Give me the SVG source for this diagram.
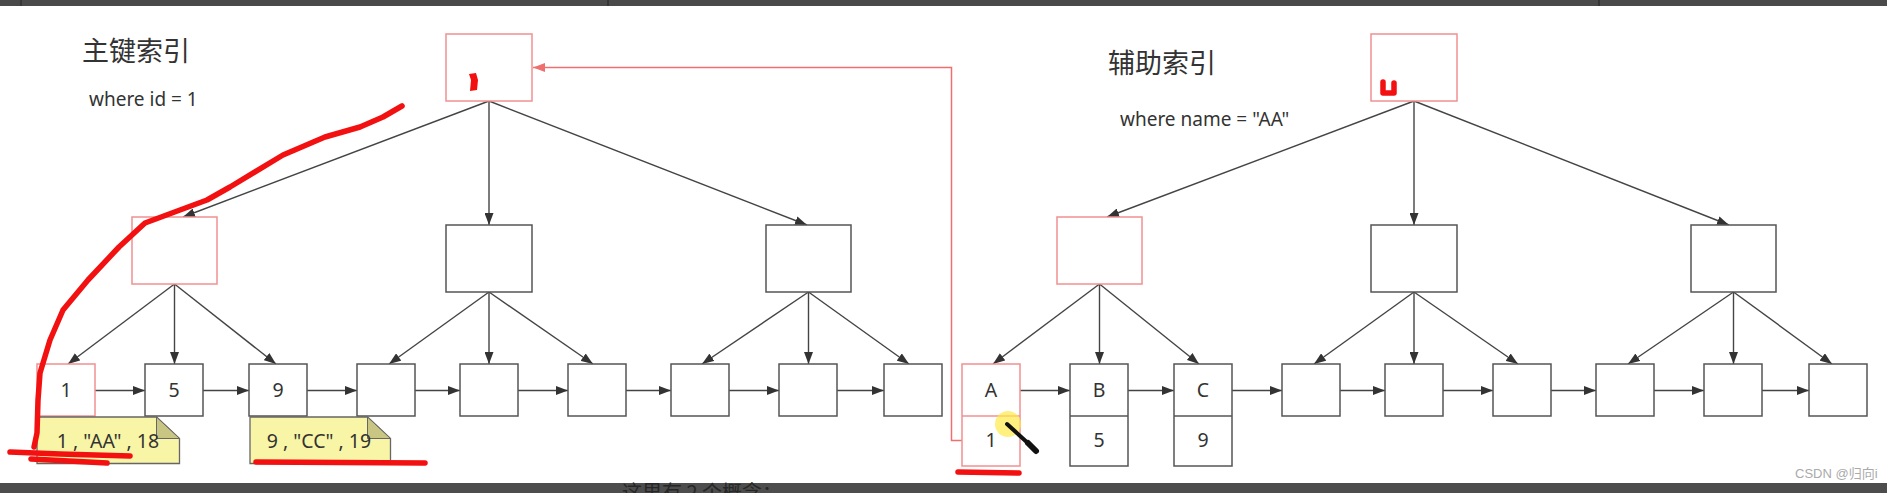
<svg xmlns="http://www.w3.org/2000/svg" width="1887" height="493" viewBox="0 0 1887 493">
<style>
.bk{fill:#fff;stroke:#555;stroke-width:1.5}
.pk{fill:#fff;stroke:#f09090;stroke-width:1.5}
.ln{fill:none;stroke:#444;stroke-width:1.4;marker-end:url(#ah)}
.rl{fill:none;stroke:#ef6f6f;stroke-width:1.5;marker-end:url(#ahr)}
.t{font-family:"Noto Sans","Noto Sans CJK SC",sans-serif;fill:#333}
.lbl{font-size:19.5px;text-anchor:middle}
.note{fill:#f8f5a6;stroke:#666;stroke-width:1.3}
.fold{fill:#c9c683;stroke:#666;stroke-width:1}
.scr{fill:none;stroke:#f21010;stroke-width:5.5;stroke-linecap:round;stroke-linejoin:round}
</style>
<defs>
<marker id="ah" viewBox="0 0 12 9" refX="12" refY="4.5" markerWidth="12" markerHeight="9" orient="auto" markerUnits="userSpaceOnUse"><path d="M0,0 L12,4.5 L0,9 z" fill="#333"/></marker>
<marker id="ahr" viewBox="0 0 12 9" refX="12" refY="4.5" markerWidth="12" markerHeight="9" orient="auto" markerUnits="userSpaceOnUse"><path d="M0,0 L12,4.5 L0,9 z" fill="#ef6f6f"/></marker>
</defs>
<rect x="0" y="0" width="1887" height="493" fill="#fff"/>
<rect x="0" y="0" width="1887" height="6" fill="#4a4a4a"/>
<g stroke="#222" stroke-width="1"><line x1="21" y1="0" x2="21" y2="6"/><line x1="608" y1="0" x2="608" y2="6"/><line x1="1599" y1="0" x2="1599" y2="6"/></g>

<g id="titles">
<text class="t" x="82" y="61" font-size="27">主键索引</text>
<text class="t" x="89" y="106" font-size="19">where id = 1</text>
<text class="t" x="1108" y="73" font-size="27">辅助索引</text>
<text class="t" x="1120" y="126" font-size="19">where name = "AA"</text>
</g>

<g id="connectors">
<path class="ln" d="M489,101 L183,217"/>
<path class="ln" d="M489,101 L489,225"/>
<path class="ln" d="M489,101 L807,225"/>
<path class="ln" d="M174.5,284 L68,364"/>
<path class="ln" d="M174.5,284 L174.5,364"/>
<path class="ln" d="M174.5,284 L276,364"/>
<path class="ln" d="M489,292 L389,364"/>
<path class="ln" d="M489,292 L489,364"/>
<path class="ln" d="M489,292 L593,364"/>
<path class="ln" d="M808.5,292 L702,364"/>
<path class="ln" d="M808.5,292 L808.5,364"/>
<path class="ln" d="M808.5,292 L909,364"/>
<path class="ln" d="M1414,101 L1107,217"/>
<path class="ln" d="M1414,101 L1414,225"/>
<path class="ln" d="M1414,101 L1729,225"/>
<path class="ln" d="M1099.5,284 L993,364"/>
<path class="ln" d="M1099.5,284 L1099.5,364"/>
<path class="ln" d="M1099.5,284 L1199,364"/>
<path class="ln" d="M1414,292 L1314,364"/>
<path class="ln" d="M1414,292 L1414,364"/>
<path class="ln" d="M1414,292 L1518,364"/>
<path class="ln" d="M1733.5,292 L1628,364"/>
<path class="ln" d="M1733.5,292 L1733.5,364"/>
<path class="ln" d="M1733.5,292 L1832,364"/>
<path class="ln" d="M95,390.5 H145"/>
<path class="ln" d="M203,390.5 H249"/>
<path class="ln" d="M307,390.5 H357"/>
<path class="ln" d="M415,390.5 H460"/>
<path class="ln" d="M518,390.5 H568"/>
<path class="ln" d="M626,390.5 H671"/>
<path class="ln" d="M729,390.5 H779"/>
<path class="ln" d="M837,390.5 H884"/>
<path class="ln" d="M1020,390.5 H1070"/>
<path class="ln" d="M1128,390.5 H1174"/>
<path class="ln" d="M1232,390.5 H1282"/>
<path class="ln" d="M1340,390.5 H1385"/>
<path class="ln" d="M1443,390.5 H1493"/>
<path class="ln" d="M1551,390.5 H1596"/>
<path class="ln" d="M1654,390.5 H1704"/>
<path class="ln" d="M1762,390.5 H1809"/>
<path class="rl" d="M962,440.5 H951.5 V67.5 H533"/>
</g>

<g id="p-root"><rect class="pk" x="446" y="34" width="86" height="67"/></g>
<g id="p-mid1"><rect class="pk" x="132" y="217" width="85" height="67"/></g>
<g id="p-mid2"><rect class="bk" x="446" y="225" width="86" height="67"/></g>
<g id="p-mid3"><rect class="bk" x="766" y="225" width="85" height="67"/></g>
<g id="p-leaf1"><rect class="pk" x="37" y="364" width="58" height="52"/><text class="t lbl" x="66" y="397">1</text></g>
<g id="p-leaf2"><rect class="bk" x="145" y="364" width="58" height="52"/><text class="t lbl" x="174" y="397">5</text></g>
<g id="p-leaf3"><rect class="bk" x="249" y="364" width="58" height="52"/><text class="t lbl" x="278" y="397">9</text></g>
<g id="p-leaf4"><rect class="bk" x="357" y="364" width="58" height="52"/></g>
<g id="p-leaf5"><rect class="bk" x="460" y="364" width="58" height="52"/></g>
<g id="p-leaf6"><rect class="bk" x="568" y="364" width="58" height="52"/></g>
<g id="p-leaf7"><rect class="bk" x="671" y="364" width="58" height="52"/></g>
<g id="p-leaf8"><rect class="bk" x="779" y="364" width="58" height="52"/></g>
<g id="p-leaf9"><rect class="bk" x="884" y="364" width="58" height="52"/></g>
<g id="note1"><path class="note" d="M37,417 H156.5 L179.5,438.5 V463.5 H37 Z"/><path class="fold" d="M156.5,417 V438.5 H179.5 Z"/><text class="t lbl" x="108" y="448" font-size="20">1 , "AA" , 18</text></g>
<g id="note2"><path class="note" d="M250,417 H367.5 L390.5,438.5 V463.5 H250 Z"/><path class="fold" d="M367.5,417 V438.5 H390.5 Z"/><text class="t lbl" x="319" y="448" font-size="20">9 , "CC" , 19</text></g>

<g id="s-root"><rect class="pk" x="1371" y="34" width="86" height="67"/></g>
<g id="s-mid1"><rect class="pk" x="1057" y="217" width="85" height="67"/></g>
<g id="s-mid2"><rect class="bk" x="1371" y="225" width="86" height="67"/></g>
<g id="s-mid3"><rect class="bk" x="1691" y="225" width="85" height="67"/></g>
<g id="s-leaf1"><rect class="pk" x="962" y="364" width="58" height="102"/><line x1="962" y1="416" x2="1020" y2="416" stroke="#f09090" stroke-width="1.5"/><text class="t lbl" x="991" y="397">A</text><text class="t lbl" x="991" y="447">1</text></g>
<g id="s-leaf2"><rect class="bk" x="1070" y="364" width="58" height="102"/><line x1="1070" y1="416" x2="1128" y2="416" stroke="#555" stroke-width="1.5"/><text class="t lbl" x="1099" y="397">B</text><text class="t lbl" x="1099" y="447">5</text></g>
<g id="s-leaf3"><rect class="bk" x="1174" y="364" width="58" height="102"/><line x1="1174" y1="416" x2="1232" y2="416" stroke="#555" stroke-width="1.5"/><text class="t lbl" x="1203" y="397">C</text><text class="t lbl" x="1203" y="447">9</text></g>
<g id="s-leaf4"><rect class="bk" x="1282" y="364" width="58" height="52"/></g>
<g id="s-leaf5"><rect class="bk" x="1385" y="364" width="58" height="52"/></g>
<g id="s-leaf6"><rect class="bk" x="1493" y="364" width="58" height="52"/></g>
<g id="s-leaf7"><rect class="bk" x="1596" y="364" width="58" height="52"/></g>
<g id="s-leaf8"><rect class="bk" x="1704" y="364" width="58" height="52"/></g>
<g id="s-leaf9"><rect class="bk" x="1809" y="364" width="58" height="52"/></g>

<g id="annotations">
<path class="scr" d="M402,106 L383,117 L360,127 L325,137 L283,155 L230,187 L207,200 L180,210 L145,223 L119,247 L88,280 L63,310 L50,340 L40,373 L38,400 L37,433 L34,447"/>
<path class="scr" d="M10,452 L60,454 L130,456"/>
<path class="scr" d="M31,459 L107,463"/>
<path class="scr" d="M256,462 L425,463"/>
<path class="scr" d="M958,472 L1019,473"/>
<path d="M469,74 L476,73 L478,80 L477,90 L470,91 L471,80 Z" fill="#f21010"/>
<path class="scr" stroke-width="4" d="M1383,82 V93 H1394 V83"/>
<circle cx="1008" cy="424" r="13" fill="#ffe94a" opacity="0.7"/>
<path d="M1007,424 L1030,445" stroke="#111" stroke-width="4" stroke-linecap="round"/>
<path d="M1028,443 L1036,451" stroke="#111" stroke-width="6" stroke-linecap="round"/>
</g>

<rect x="0" y="483" width="1887" height="10" fill="#4d4d4d"/>
<text x="622" y="500" font-family="'Noto Sans CJK SC',sans-serif" font-size="20" fill="#262626">这里有 2 个概念：</text>
<text x="1795" y="478" font-family="'Liberation Sans','Noto Sans CJK SC',sans-serif" font-size="13" fill="#aaa">CSDN @归向i</text>
</svg>
